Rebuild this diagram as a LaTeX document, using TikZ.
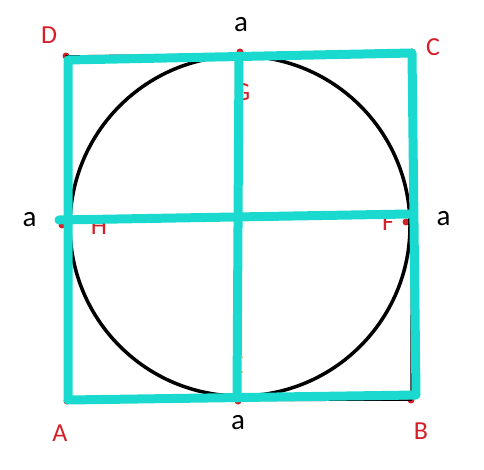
\documentclass[tikz,border=0pt]{standalone}
\usepackage{fontspec}
\setmainfont{Carlito}
\definecolor{cyanline}{RGB}{26,218,208}
\definecolor{lblred}{RGB}{214,32,40}
\definecolor{lblorange}{RGB}{240,190,120}
\tikzset{
  cyanstroke/.style={draw=cyanline,line width=9pt,line cap=round,line join=round},
  redlbl/.style={text=lblred,font=\fontsize{26}{26}\selectfont,inner sep=0pt},
  blacklbl/.style={text=black,font=\fontsize{29}{29}\selectfont,inner sep=0pt},
  reddot/.style={fill=lblred,circle,inner sep=0pt,minimum size=7pt}
}
\begin{document}
\begin{tikzpicture}[x=1pt,y=-1pt]
\useasboundingbox (0,0) rectangle (484,470);
\fill[white] (0,0) rectangle (484,470);
% underlying figure
\coordinate (d0) at (66,56);
\coordinate (c0) at (412,52);
\coordinate (b0) at (411,400);
\coordinate (a0) at (67,401);
\node[reddot] (dd) at (d0) {};
\node[reddot] (dc) at (c0) {};
\node[reddot] (db) at (b0) {};
\node[reddot] (da) at (a0) {};
\node[reddot] (dg) at (240,52) {};
\node[reddot] (dh) at (62,225) {};
\node[reddot] (df) at (406,222) {};
\node[reddot] (de) at (238,401) {};
\draw[black,line width=1.5pt] (d0) -- (c0) -- (b0) -- (a0) -- cycle;
\draw[black,line width=3.5pt] (240,226) circle (170pt);
% labels hidden partly
\node[redlbl] (G) at (242,92) {G};
\node[redlbl] (H) at (99,226) {H};
\node[redlbl] (F) at (388,222) {F};
\node[text=lblorange,font=\fontsize{26}{26}\selectfont,inner sep=0pt] (E) at (238,365) {E};
% cyan overlay
\coordinate (D) at (68,60);
\coordinate (C) at (412,53);
\coordinate (B) at (416,395);
\coordinate (A) at (68,400);
\coordinate (top) at (239,56);
\coordinate (bot) at (237,398);
\coordinate (lft) at (59,220);
\coordinate (rgt) at (410,214);
\draw[cyanstroke] (D) -- (C) -- (B) -- (A) -- cycle;
\draw[cyanstroke] (top) -- (bot);
\draw[cyanstroke] (lft) -- (rgt);
% outer labels
\node[redlbl] (LD) at (49,35) {D};
\node[redlbl] (LC) at (433,47) {C};
\node[redlbl] (LA) at (60,433) {A};
\node[redlbl] (LB) at (421,431) {B};
\node[blacklbl] (at) at (241,25) {a};
\node[blacklbl] (al) at (29.5,219.5) {a};
\node[blacklbl] (ar) at (443.5,218.5) {a};
\node[blacklbl] (ab) at (238,423) {a};
\end{tikzpicture}
\end{document}
